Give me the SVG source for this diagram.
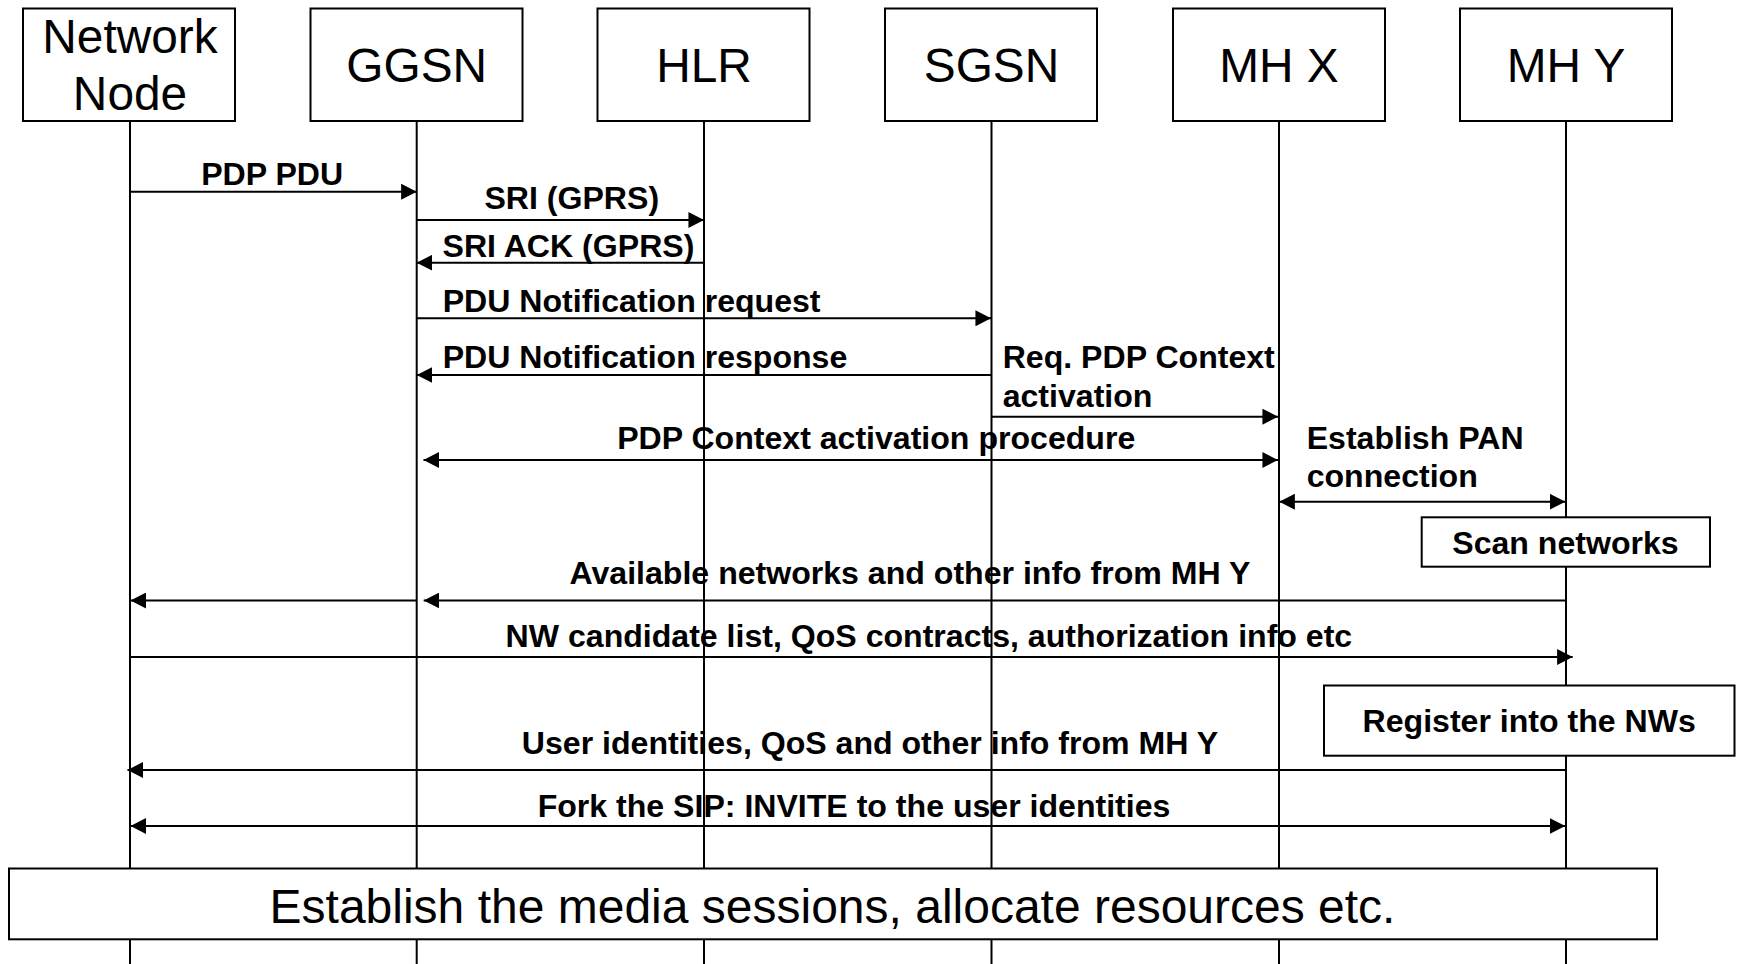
<svg xmlns="http://www.w3.org/2000/svg" width="1738" height="964" viewBox="0 0 1738 964">
  <style>
    .box { fill: #ffffff; stroke: #000000; stroke-width: 2; }
    .life { stroke: #000000; stroke-width: 2; fill: none; }
    .msg { stroke: #000000; stroke-width: 2; fill: none; }
    .head { font-family: "Liberation Sans", Arial, sans-serif; font-size: 47.8px; fill: #000000; text-anchor: middle; }
    .lbl { font-family: "Liberation Sans", Arial, sans-serif; font-size: 32.1px; font-weight: bold; fill: #000000; }
    .mid { text-anchor: middle; }
    .big { font-family: "Liberation Sans", Arial, sans-serif; font-size: 48px; fill: #000000; text-anchor: middle; }
  </style>
  <defs>
    <marker id="arrow" markerUnits="userSpaceOnUse" markerWidth="16" markerHeight="16" viewBox="0 0 15 15.4" refX="15" refY="7.7" orient="auto-start-reverse">
      <path d="M0,0 L15,7.7 L0,15.4 Z" fill="#000000"/>
    </marker>
  </defs>

  <rect x="0" y="0" width="1738" height="964" fill="#ffffff"/>

  <!-- Participants: header box plus lifeline -->
  <g id="network-node">
    <line class="life" x1="130" y1="121" x2="130" y2="964"/>
    <rect class="box" x="23" y="8.5" width="212" height="112.5"/>
    <text class="head" x="130" y="53.3">Network</text>
    <text class="head" x="130" y="110">Node</text>
  </g>
  <g id="ggsn">
    <line class="life" x1="416.7" y1="121" x2="416.7" y2="964"/>
    <rect class="box" x="310.5" y="8.5" width="212" height="112.5"/>
    <text class="head" x="416.7" y="81.7">GGSN</text>
  </g>
  <g id="hlr">
    <line class="life" x1="704" y1="121" x2="704" y2="964"/>
    <rect class="box" x="597.5" y="8.5" width="212" height="112.5"/>
    <text class="head" x="704" y="81.7">HLR</text>
  </g>
  <g id="sgsn">
    <line class="life" x1="991.5" y1="121" x2="991.5" y2="964"/>
    <rect class="box" x="885" y="8.5" width="212" height="112.5"/>
    <text class="head" x="991.5" y="81.7">SGSN</text>
  </g>
  <g id="mh-x">
    <line class="life" x1="1279" y1="121" x2="1279" y2="964"/>
    <rect class="box" x="1173" y="8.5" width="212" height="112.5"/>
    <text class="head" x="1279" y="81.7">MH X</text>
  </g>
  <g id="mh-y">
    <line class="life" x1="1566" y1="121" x2="1566" y2="964"/>
    <rect class="box" x="1460" y="8.5" width="212" height="112.5"/>
    <text class="head" x="1566" y="81.7">MH Y</text>
  </g>

  <!-- Messages -->
  <g id="connectors">
    <line class="msg" x1="130" y1="191.7" x2="416.7" y2="191.7" marker-end="url(#arrow)"/>
    <text class="lbl mid" x="272.2" y="185">PDP PDU</text>

    <line class="msg" x1="416.7" y1="220" x2="704" y2="220" marker-end="url(#arrow)"/>
    <text class="lbl mid" x="571.8" y="208.5">SRI (GPRS)</text>

    <line class="msg" x1="704" y1="262.7" x2="416.7" y2="262.7" marker-end="url(#arrow)"/>
    <text class="lbl" x="442.5" y="256.7">SRI ACK (GPRS)</text>

    <line class="msg" x1="416.7" y1="318.3" x2="991" y2="318.3" marker-end="url(#arrow)"/>
    <text class="lbl" x="442.7" y="311.7">PDU Notification request</text>

    <line class="msg" x1="991.5" y1="375" x2="416.7" y2="375" marker-end="url(#arrow)"/>
    <text class="lbl" x="442.7" y="368.3">PDU Notification response</text>

    <line class="msg" x1="991.5" y1="416.7" x2="1278" y2="416.7" marker-end="url(#arrow)"/>
    <text class="lbl" x="1002.7" y="368.3">Req. PDP Context</text>
    <text class="lbl" x="1002.7" y="406.7">activation</text>

    <line class="msg" x1="423.5" y1="460" x2="1278" y2="460" marker-start="url(#arrow)" marker-end="url(#arrow)"/>
    <text class="lbl mid" x="876.2" y="449">PDP Context activation procedure</text>

    <line class="msg" x1="1279.3" y1="501.7" x2="1565.3" y2="501.7" marker-start="url(#arrow)" marker-end="url(#arrow)"/>
    <text class="lbl" x="1306.7" y="448.8">Establish PAN</text>
    <text class="lbl" x="1306.7" y="487">connection</text>

    <line class="msg" x1="1566" y1="600.5" x2="423.7" y2="600.5" marker-end="url(#arrow)"/>
    <line class="msg" x1="416.7" y1="600.5" x2="130.5" y2="600.5" marker-end="url(#arrow)"/>
    <text class="lbl mid" x="910" y="584">Available networks and other info from MH Y</text>

    <line class="msg" x1="130" y1="657" x2="1572.7" y2="657" marker-end="url(#arrow)"/>
    <text class="lbl mid" x="928.9" y="647">NW candidate list, QoS contracts, authorization info etc</text>

    <line class="msg" x1="1566" y1="770" x2="127.5" y2="770" marker-end="url(#arrow)"/>
    <text class="lbl mid" x="870" y="753.5">User identities, QoS and other info from MH Y</text>

    <line class="msg" x1="130.5" y1="826" x2="1565.3" y2="826" marker-start="url(#arrow)" marker-end="url(#arrow)"/>
    <text class="lbl mid" x="854" y="817">Fork the SIP: INVITE to the user identities</text>
  </g>

  <!-- Local actions and the closing phase -->
  <g id="scan-networks">
    <rect class="box" x="1421.7" y="517.3" width="288.3" height="49.4"/>
    <text class="lbl mid" x="1565.5" y="553.5">Scan networks</text>
  </g>
  <g id="register-nws">
    <rect class="box" x="1324" y="685.5" width="410.5" height="70.2"/>
    <text class="lbl mid" x="1529.2" y="732">Register into the NWs</text>
  </g>
  <g id="media-sessions">
    <rect class="box" x="9" y="868.5" width="1648" height="70.8"/>
    <text class="big" x="832.5" y="922.7">Establish the media sessions, allocate resources etc.</text>
  </g>
</svg>
